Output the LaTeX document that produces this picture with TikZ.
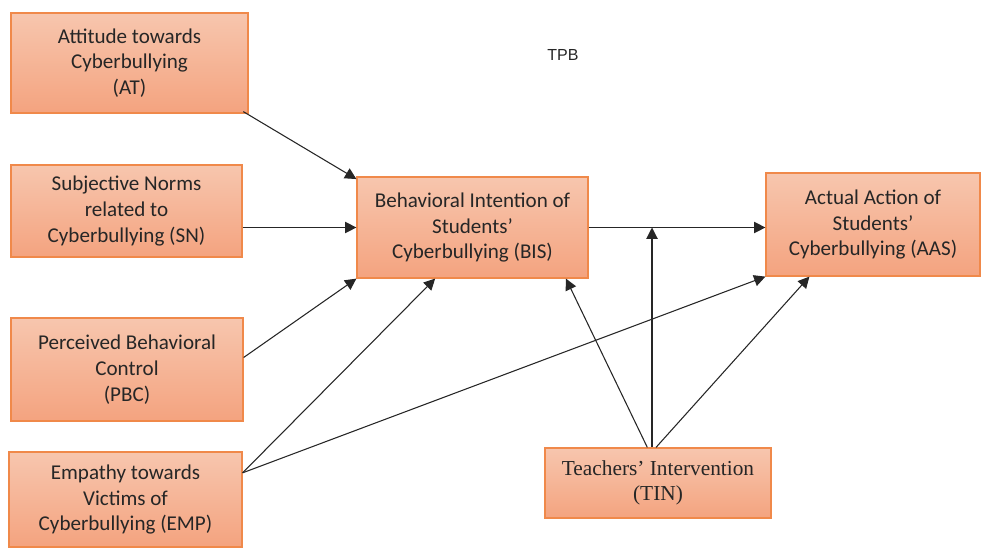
\documentclass[tikz,border=0pt]{standalone}
\usepackage{fontspec}
\setmainfont{Carlito}
\newfontfamily\timesfont{Liberation Serif}
\newfontfamily\arialfont{Liberation Sans}
\usetikzlibrary{arrows.meta}

\definecolor{boxtop}{HTML}{F7C6AE}
\definecolor{boxbot}{HTML}{F4A37F}
\definecolor{boxline}{HTML}{F0894A}

\begin{document}
\begin{tikzpicture}[x=0.75pt, y=-0.75pt,
  factor/.style={draw=boxline, line width=0.9pt, top color=boxtop, bottom color=boxbot,
    align=center, inner sep=0pt, text=black!85, font=\fontsize{15.8}{19.3}\selectfont},
  link/.style={-{Triangle[length=8.5pt,width=8.5pt]}, line width=0.8pt, black!85}]

\useasboundingbox (0,0) rectangle (983,547);

\node[factor, minimum width=177.75pt, minimum height=75pt] (AT) at (129.5,63)
  {Attitude towards\\Cyberbullying\\(AT)};
\node[factor, minimum width=173.25pt, minimum height=69pt] (SN) at (126.5,211)
  {Subjective Norms\\related to\\Cyberbullying (SN)};
\node[factor, minimum width=174pt, minimum height=77.25pt] (PBC) at (127,369.5)
  {Perceived Behavioral\\Control\\(PBC)};
\node[factor, minimum width=174.75pt, minimum height=71.25pt] (EMP) at (125.5,499.5)
  {Empathy towards\\Victims of\\Cyberbullying (EMP)};

\node[factor, minimum width=173.25pt, minimum height=75.75pt] (BIS) at (472.5,227.5)
  {Behavioral Intention of\\Students’\\Cyberbullying (BIS)};
\node[factor, minimum width=160.5pt, minimum height=77.25pt] (AAS) at (873,224.5)
  {Actual Action of\\Students’\\Cyberbullying (AAS)};
\node[factor, minimum width=169.5pt, minimum height=52.5pt, font=\timesfont\fontsize{16}{18.5}\selectfont] (TIN) at (658,483)
  {Teachers’ Intervention\\(TIN)};

\node[text=black!85, font=\arialfont\fontsize{12}{14}\selectfont] (TPB) at (563,55) {TPB};

% predictors of intention
\draw[link] ([xshift=-4pt,yshift=1.5pt]AT.south east) -- ([yshift=-2pt]BIS.north west);
\draw[link] (SN.east |- BIS.west) -- (BIS.west);
\draw[link] ([yshift=9pt]PBC.east) -- (BIS.south west);
\draw[link] ([yshift=20pt]EMP.east) -- ([xshift=-28pt]BIS.south);

% towards actual action
\draw[link] ([yshift=20pt]EMP.east) -- (AAS.south west);
\draw[link] (BIS.east) -- (AAS.west |- BIS.east);

% teachers
\coordinate (meet) at ([xshift=-4.5pt]TIN.north |- BIS.east);
\draw[link] ([xshift=-4.5pt]TIN.north) -- (meet);
\draw[link] ([xshift=-8pt]TIN.north) -- ([xshift=-17pt]BIS.south east);
\draw[link] ([xshift=-1.5pt]TIN.north) -- ([xshift=33pt]AAS.south west);

\end{tikzpicture}
\end{document}
